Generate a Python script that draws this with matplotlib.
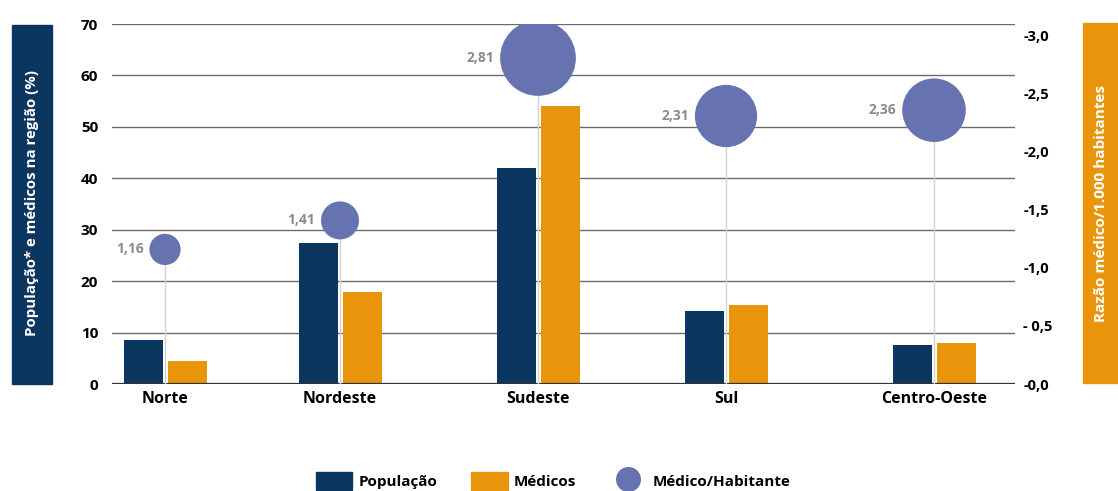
import matplotlib.pyplot as plt
from matplotlib.patches import Rectangle, Patch
from matplotlib.lines import Line2D

plt.rcParams['font.family'] = ['Open Sans', 'DejaVu Sans']

# Distribuição regional: população x médicos (%) e razão médico/1.000 hab.
regioes = ['Norte', 'Nordeste', 'Sudeste', 'Sul', 'Centro-Oeste']
populacao = [8.5, 27.5, 42.0, 14.2, 7.5]
medicos = [4.4, 17.8, 54.0, 15.3, 8.0]
razao = [1.16, 1.41, 2.81, 2.31, 2.36]
razao_ticks = [0, 0.5, 1.0, 1.5, 2.0, 2.5, 3.0]
razao_ticklabels = ['-0,0', '- 0,5', '-1,0', '-1,5', '-2,0', '-2,5', '-3,0']

# layout
x_pos = [0, 1.75, 3.73, 5.61, 7.69]
NAVY = '#0b3660'
ORANGE = '#e8950c'
BUBBLE = '#6673b0'
W, H = 1118, 491

fig = plt.figure(figsize=(W / 100, H / 100), dpi=100)
ax = fig.add_axes([112 / W, 1 - 384 / H, (1015 - 112) / W, 360 / H])

bw = 0.39
ax.bar([p - 0.22 for p in x_pos], populacao, bw, color=NAVY, zorder=3)
ax.bar([p + 0.22 for p in x_pos], medicos, bw, color=ORANGE, zorder=3)
ax.set_xlim(-0.53, 8.50)
ax.set_ylim(0, 70)
ax.set_yticks(range(0, 71, 10))
ax.set_xticks(x_pos)
ax.set_xticklabels(regioes)
ax.grid(axis='y', color='#6b6b6b', lw=1, zorder=0)
ax.grid(axis='x', visible=False)
for s in ax.spines.values():
    s.set_visible(False)
ax.axhline(0, color='#333333', lw=1.6, zorder=4)
ax.tick_params(axis='y', length=0, labelsize=11, pad=10)
ax.tick_params(axis='x', length=0, labelsize=11.5, pad=5)
for t in ax.get_yticklabels() + ax.get_xticklabels():
    t.set_fontweight('bold')

# eixo da razão médico/habitante
ax2 = ax.twinx()
r_lo, r_hi = 0, 3.103
ax2.set_ylim(r_lo, r_hi)
ax2.set_yticks(razao_ticks)
ax2.set_yticklabels(razao_ticklabels)
ax2.tick_params(axis='y', length=0, labelsize=10.5, pad=6)
for t in ax2.get_yticklabels():
    t.set_fontweight('bold')
for s in ax2.spines.values():
    s.set_visible(False)

ax2.vlines(x_pos, r_lo, razao, color='#d3d3d3', lw=1, zorder=1)
sizes = [(19.4 * v) ** 2 for v in razao]
ax2.scatter(x_pos, razao, s=sizes, color=BUBBLE, linewidths=0, zorder=3)
for p, v in zip(x_pos, razao):
    ax2.annotate(f'{v:.2f}'.replace('.', ','), (p, v),
                 xytext=(-(19.4 * v / 2 + 4), 0), textcoords='offset points',
                 ha='right', va='center', fontsize=10, fontweight='bold',
                 color='#8c8c8c')

# caixas dos títulos dos eixos
fig.patches.append(Rectangle((12 / W, 1 - 384 / H), 40 / W, 359 / H,
                             transform=fig.transFigure, color=NAVY))
fig.text(32 / W, 1 - 203 / H, 'População* e médicos na região (%)',
         rotation=90, ha='center', va='center', color='white',
         fontsize=10.8, fontweight='bold')
fig.patches.append(Rectangle((1083 / W, 1 - 383 / H), 40 / W, 360 / H,
                             transform=fig.transFigure, color=ORANGE))
fig.text(1101 / W, 1 - 203 / H, 'Razão médico/1.000 habitantes',
         rotation=90, ha='center', va='center', color='white',
         fontsize=11, fontweight='bold')

handles = [
    Patch(color=NAVY, label='População'),
    Patch(color=ORANGE, label='Médicos'),
    Line2D([], [], marker='o', ls='', markersize=18, color=BUBBLE,
           markeredgewidth=0, label='Médico/Habitante'),
]
fig.legend(handles=handles, loc='lower center', bbox_to_anchor=(553 / W, -0.025),
           ncol=3, frameon=False, prop={'weight': 'bold', 'size': 11},
           handlelength=2.4, handleheight=1.4, handletextpad=0.4,
           columnspacing=2.2)

fig.savefig('out.png', dpi=100)
